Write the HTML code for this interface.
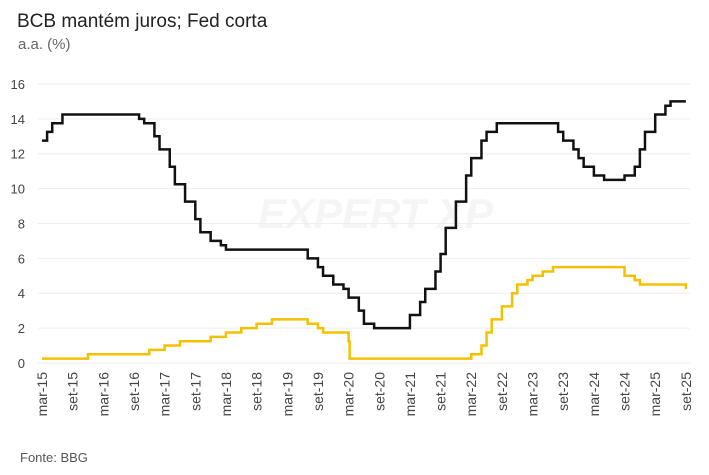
<!DOCTYPE html>
<html><head><meta charset="utf-8"><style>
body{margin:0;background:#fff;}
svg{display:block;font-family:"Liberation Sans",sans-serif;}
</style></head><body>
<svg id="c" width="709" height="475" xmlns="http://www.w3.org/2000/svg">
<rect width="709" height="475" fill="#fff"/>
<text x="17" y="27" font-size="19" fill="#222">BCB mantém juros; Fed corta</text>
<text x="18" y="49" font-size="15" fill="#666">a.a. (%)</text>
<text x="258" y="228" font-size="42" font-weight="bold" font-style="italic" fill="#f5f5f5">EXPERT XP</text>
<g id="grid"></g>
<g id="lines"></g>
<text x="20" y="462" font-size="13" fill="#555">Fonte: BBG</text>
</svg>
<script>
var s=document.getElementById('c'),g=document.getElementById('grid'),L=document.getElementById('lines');
function X(m){return 42+m*5.11;} function Y(v){return 363-v*17.44;}
var h='';
for(var v=0;v<=16;v+=2){h+='<line x1="38" x2="690" y1="'+Y(v)+'" y2="'+Y(v)+'" stroke="#eee" stroke-width="1"/>';
h+='<text x="25" y="'+(Y(v)+5)+'" font-size="13" fill="#444" text-anchor="end">'+v+'</text>';}
for(var i=0;i<=21;i++){var m=i*6,yr=15+Math.floor(i/2),lab=(i%2?'set-':'mar-')+yr;
h+='<text transform="translate('+(X(m)+5)+',372) rotate(-90)" font-size="14" fill="#444" text-anchor="end">'+lab+'</text>';}
g.innerHTML=h;
function mi(y,mo){return (y-2015)*12+(mo-3);}
function path(steps){var d='';
for(var i=0;i<steps.length;i++){var x=X(mi(steps[i][0],steps[i][1])),y=Y(steps[i][2]);
if(i==0)d='M'+x+' '+y;else d+=' H'+x+' V'+y;}
d+=' H'+X(126);return d;}
var selic=[[2015,3,12.75],[2015,4,13.25],[2015,5,13.75],[2015,7,14.25],[2016,10,14],[2016,11,13.75],[2017,1,13],[2017,2,12.25],[2017,4,11.25],[2017,5,10.25],[2017,7,9.25],[2017,9,8.25],[2017,10,7.5],[2017,12,7],[2018,2,6.75],[2018,3,6.5],[2019,7,6],[2019,9,5.5],[2019,10,5],[2019,12,4.5],[2020,2,4.25],[2020,3,3.75],[2020,5,3],[2020,6,2.25],[2020,8,2],[2021,3,2.75],[2021,5,3.5],[2021,6,4.25],[2021,8,5.25],[2021,9,6.25],[2021,10,7.75],[2021,12,9.25],[2022,2,10.75],[2022,3,11.75],[2022,5,12.75],[2022,6,13.25],[2022,8,13.75],[2023,8,13.25],[2023,9,12.75],[2023,11,12.25],[2023,12,11.75],[2024,1,11.25],[2024,3,10.75],[2024,5,10.5],[2024,9,10.75],[2024,11,11.25],[2024,12,12.25],[2025,1,13.25],[2025,3,14.25],[2025,5,14.75],[2025,6,15]];
var fed=[[2015,3,0.25],[2015,12,0.5],[2016,12,0.75],[2017,3,1],[2017,6,1.25],[2017,12,1.5],[2018,3,1.75],[2018,6,2],[2018,9,2.25],[2018,12,2.5],[2019,7,2.25],[2019,9,2],[2019,10,1.75],[2020,3,1.25],[2020,3.2,0.25],[2022,3,0.5],[2022,5,1],[2022,6,1.75],[2022,7,2.5],[2022,9,3.25],[2022,11,4],[2022,12,4.5],[2023,2,4.75],[2023,3,5],[2023,5,5.25],[2023,7,5.5],[2024,9,5],[2024,11,4.75],[2024,12,4.5],[2025,9,4.5],[2025,9,4.25]];
L.innerHTML='<path d="'+path(fed)+' V'+Y(4.25)+'" fill="none" stroke="#f5c000" stroke-width="2.5"/>'+
'<path d="'+path(selic)+'" fill="none" stroke="#111" stroke-width="2.5"/>';
</script>
</body></html>
